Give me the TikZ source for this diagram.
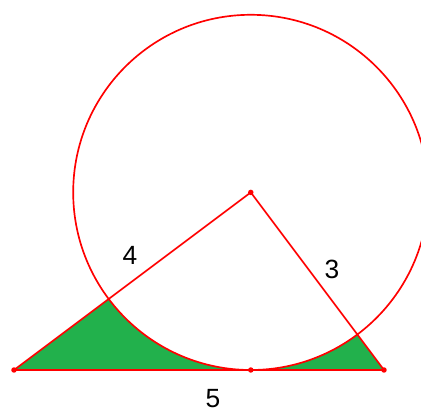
\documentclass[tikz,border=0pt]{standalone}
\usepackage{fontspec}
\setmainfont{Liberation Sans}
\usetikzlibrary{calc}
\definecolor{fillgreen}{RGB}{34,177,76}

\begin{document}
\begin{tikzpicture}[x=1.48cm,y=1.48cm,font=\fontsize{15}{18}\selectfont,
    edge/.style={red,line width=.95pt},dot/.style={circle,fill=red,inner sep=1.1pt}]
  \clip (-0.189,-0.554) rectangle (5.5,5.0);
  \coordinate (A) at (0,0);
  \coordinate (B) at (5,0);
  \coordinate (C) at (3.2,2.4);
  \coordinate (D) at (3.2,0);
  \begin{scope}
    \clip (A)--(B)--(C)--cycle;
    \fill[fillgreen,even odd rule] (A)--(B)--(C)--cycle (C) circle [radius=2.4];
  \end{scope}
  \draw[edge] (A)--(B)--(C)--cycle (C) circle [radius=2.4];
  \foreach \p in {A,B,C,D} \node[dot] at (\p) {};
  \node (lab4) at (1.568,1.55) {4};
  \node (lab3) at (4.297,1.36) {3};
  \node (lab5) at (2.689,-0.39) {5};
\end{tikzpicture}
\end{document}
